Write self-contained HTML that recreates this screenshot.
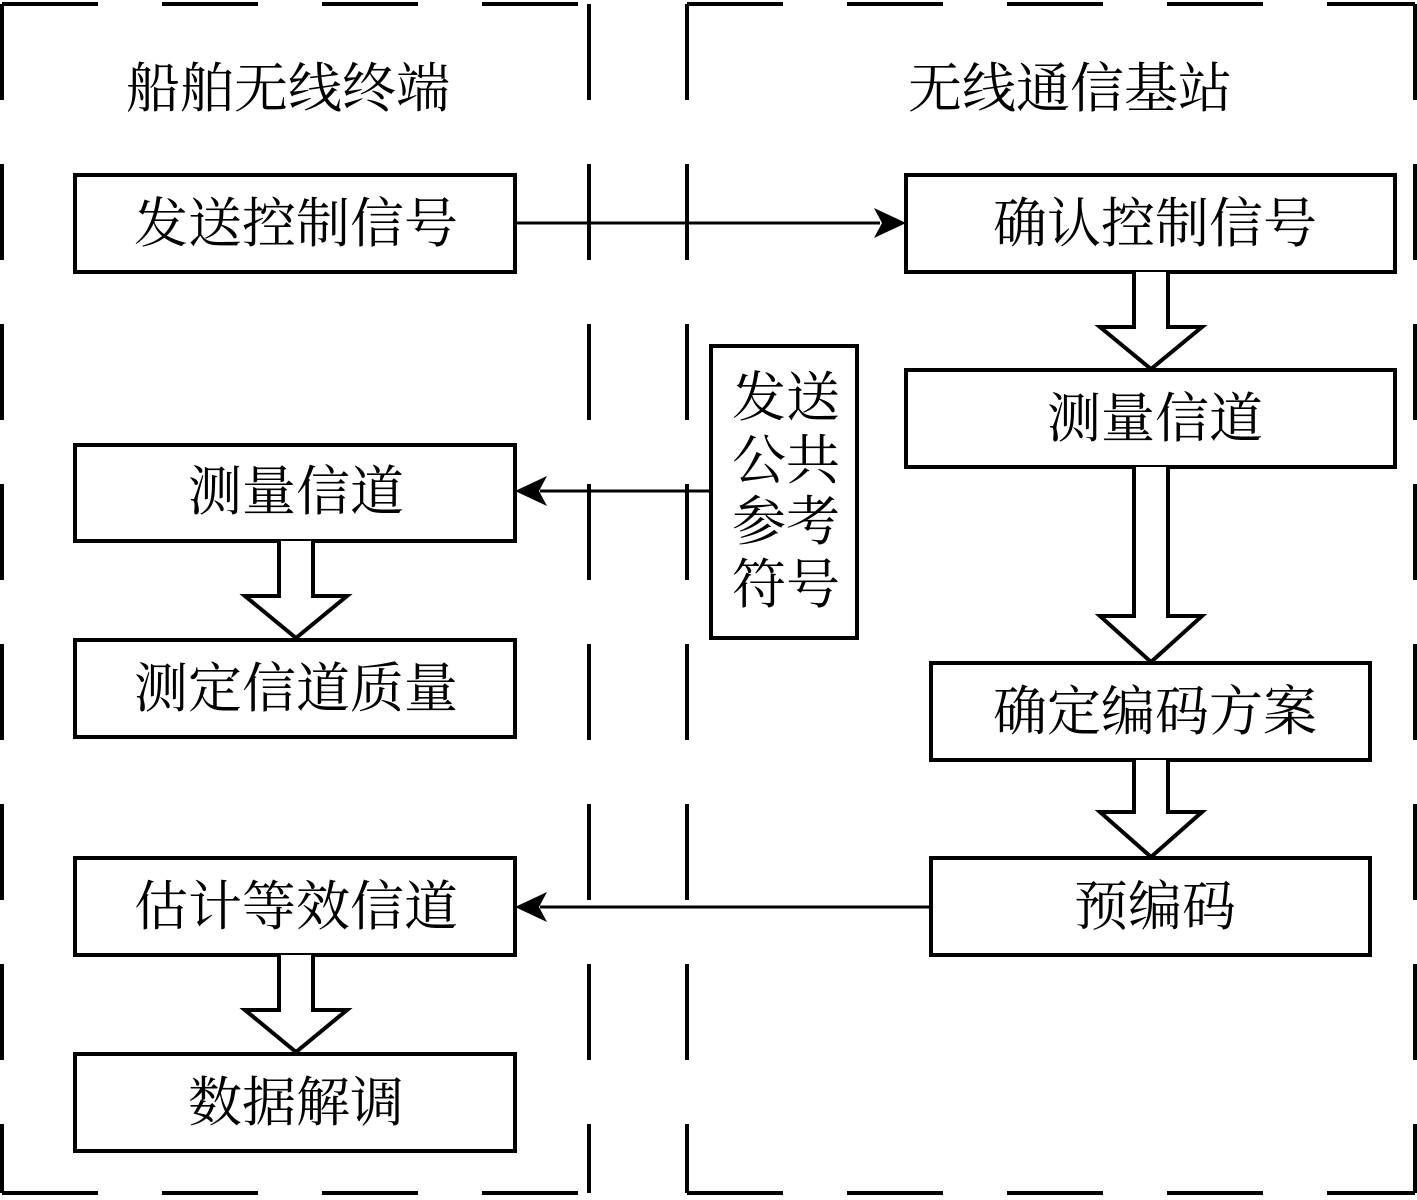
<!DOCTYPE html>
<html><head><meta charset="utf-8"><style>
html,body{margin:0;padding:0;background:#fff}
svg{display:block}
text{font-family:"Noto Serif CJK SC","Liberation Serif",serif;font-size:54px;fill:#000}
</style></head><body>
<svg width="1417" height="1200" viewBox="0 0 1417 1200" xmlns="http://www.w3.org/2000/svg">
<defs>
<marker id="ah" markerWidth="10" markerHeight="10" refX="9" refY="5" orient="auto" markerUnits="userSpaceOnUse" viewBox="0 0 10 10">
</marker>
</defs>
<g stroke="#000" stroke-width="4" fill="none" stroke-dasharray="96 64" stroke-linecap="butt">
<path d="M2,4 H589"/>
<path d="M2,4 V1193"/>
<path d="M589,4 V1193"/>
<path d="M2,1193 H589"/>
<path d="M687,4 H1415"/>
<path d="M687,4 V1193"/>
<path d="M1415,4 V1193"/>
<path d="M687,1193 H1415"/>
</g>
<g stroke="#000" stroke-width="4" fill="#fff">
<rect x="75" y="175" width="440" height="97"/>
<rect x="75" y="445" width="440" height="96"/>
<rect x="75" y="640" width="440" height="97"/>
<rect x="75" y="858" width="440" height="97"/>
<rect x="75" y="1054" width="440" height="97"/>
<rect x="906" y="175" width="489" height="97"/>
<rect x="906" y="370" width="489" height="97"/>
<rect x="931" y="663" width="439" height="97"/>
<rect x="931" y="858" width="439" height="97"/>
<rect x="711" y="346" width="146" height="292"/>
</g>
<g stroke="#000" stroke-width="4" fill="#fff" stroke-linejoin="miter">
<path d="M1134,272 V327 H1100 L1151,369 L1202,327 H1168 V272"/>
<path d="M1134,467 V616 H1100 L1151,662 L1202,616 H1168 V467"/>
<path d="M1134,760 V812 H1100 L1151,857 L1202,812 H1168 V760"/>
<path d="M279,541 V596 H245 L296,638 L347,596 H313 V541"/>
<path d="M279,955 V1010 H245 L296,1052 L347,1010 H313 V955"/>
</g>
<g stroke="#000" stroke-width="3">
<line x1="515" y1="223" x2="880" y2="223"/>
<line x1="711" y1="491" x2="540" y2="491"/>
<line x1="931" y1="907" x2="540" y2="907"/>
</g>
<g fill="#000">
<path d="M906,223 L874,208 L882,223 L874,238 Z"/>
<path d="M515,491 L547,476 L539,491 L547,506 Z"/>
<path d="M515,907 L547,892 L539,907 L547,922 Z"/>
</g>
<g text-anchor="middle">
<text x="288" y="107">船舶无线终端</text>
<text x="1070" y="107">无线通信基站</text>
<text x="296" y="242">发送控制信号</text>
<text x="296" y="510">测量信道</text>
<text x="296" y="707">测定信道质量</text>
<text x="296" y="925">估计等效信道</text>
<text x="296" y="1121">数据解调</text>
<text x="1155" y="242">确认控制信号</text>
<text x="1155" y="437">测量信道</text>
<text x="1155" y="730">确定编码方案</text>
<text x="1155" y="925">预编码</text>
<text x="786" y="416">发送</text>
<text x="786" y="479">公共</text>
<text x="786" y="540">参考</text>
<text x="786" y="603">符号</text>
</g>
</svg>
</body></html>
